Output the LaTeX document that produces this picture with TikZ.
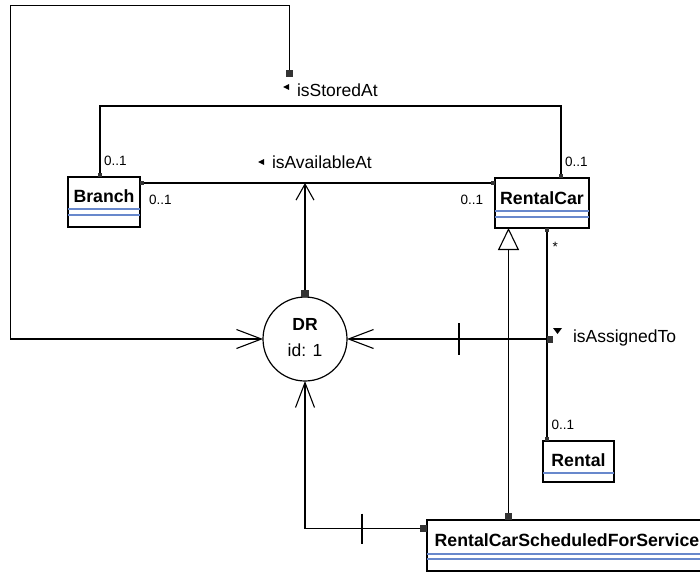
\documentclass[tikz,border=0pt]{standalone}
\usepackage{fontspec}
\setmainfont{Liberation Sans}
\usetikzlibrary{arrows.meta,positioning}

\definecolor{sepblue}{RGB}{104,136,204}
\definecolor{sqgray}{RGB}{51,51,51}

\tikzset{
  cls/.style={rectangle, draw=black, line width=1.2pt, fill=white, anchor=north west},
  clsname/.style={anchor=base, font=\fontsize{17.7}{20}\selectfont\bfseries},
  sepline/.style={draw=sepblue, line width=1.1pt},
  mult/.style={anchor=base west, font=\fontsize{13.5}{16}\selectfont},
  assoc/.style={anchor=base west, font=\fontsize{17.5}{20}\selectfont},
  bigsq/.style={rectangle, fill=sqgray, minimum size=7pt},
  smallsq/.style={rectangle, fill=sqgray, minimum size=4pt},
  barb/.style={-{Straight Barb[length=25pt, width=19pt]}},
  smallbarb/.style={-{Straight Barb[length=16pt, width=18pt]}},
  inherit/.style={-{Triangle[open, length=22pt, width=21pt, fill=white]}},
}

\begin{document}
\begin{tikzpicture}[x=1pt, y=-1pt, line width=1.1pt, inner sep=0, outer sep=0]
  \useasboundingbox (0,0) rectangle (700,572);
  \clip (0,0) rectangle (700,572);

  % classes
  \node[cls, minimum width=72pt, minimum height=50pt] (branch) at (68,177) {};
  \node[clsname] (branchName) at ([yshift=-25.5pt]branch.north) {Branch};
  \draw[sepline] ([yshift=-32pt]branch.north west) -- ([yshift=-32pt]branch.north east);
  \draw[sepline] ([yshift=-38pt]branch.north west) -- ([yshift=-38pt]branch.north east);

  \node[cls, minimum width=94pt, minimum height=50pt] (rentalcar) at (495,178) {};
  \node[clsname] (rentalcarName) at ([yshift=-26pt]rentalcar.north) {RentalCar};
  \draw[sepline] ([yshift=-33pt]rentalcar.north west) -- ([yshift=-33pt]rentalcar.north east);
  \draw[sepline] ([yshift=-39pt]rentalcar.north west) -- ([yshift=-39pt]rentalcar.north east);

  \node[cls, minimum width=71pt, minimum height=41pt] (rental) at (543,441) {};
  \node[clsname] (rentalName) at ([yshift=-25pt]rental.north) {Rental};
  \draw[sepline] ([yshift=-32pt]rental.north west) -- ([yshift=-32pt]rental.north east);

  \node[cls, minimum width=280pt, minimum height=51pt] (rcsfs) at (427,520) {};
  \node[clsname] (rcsfsName) at ([yshift=-26pt]rcsfs.north) {RentalCarScheduledForService};
  \draw[sepline] ([yshift=-34pt]rcsfs.north west) -- ([yshift=-34pt]rcsfs.north east);
  \draw[sepline] ([yshift=-39pt]rcsfs.north west) -- ([yshift=-39pt]rcsfs.north east);

  % derivation rule
  \node[circle, draw=black, line width=1.2pt, minimum size=84pt, align=center,
    text depth=4pt, font=\fontsize{17.5}{26}\selectfont] (dr) at (305,339) {\textbf{DR}\\id: 1};

  % isStoredAt
  \node[smallsq, anchor=south] (brTop) at ([xshift=-4pt]branch.north) {};
  \node[smallsq, anchor=south] (rcTop) at ([xshift=19pt]rentalcar.north) {};
  \coordinate (storedBar) at (330,106);
  \draw (brTop.north) |- (storedBar) -| (rcTop.north);
  \node[mult] (mBrTop) at (104,165.5) {0..1};
  \node[mult] (mRcTop) at (565,166) {0..1};

  \node[bigsq] (stored) at (289.5,74) {};
  \coordinate (loopTL) at (10.5,5.5);
  \draw[barb] (stored.north) |- (loopTL) |- (dr.west);
  \node[assoc] (storedLbl) at (297,96.5) {isStoredAt};
  \fill ([shift={(-14,-9.5)}]storedLbl.base west) -- ++(6,-3) -- ++(0,6) -- cycle;

  % isAvailableAt
  \node[smallsq, anchor=west] (brRight) at ([yshift=-6pt]branch.north east) {};
  \node[smallsq, anchor=east] (rcLeft) at ([yshift=-5pt]rentalcar.north west) {};
  \draw (brRight.east) -- (rcLeft.west);
  \node[mult] (mBrRight) at (149,204) {0..1};
  \node[mult] (mRcLeft) at (460.5,204) {0..1};
  \node[assoc] (availLbl) at (272,168) {isAvailableAt};
  \fill ([shift={(-14,-6)}]availLbl.base west) -- ++(6,-3) -- ++(0,6) -- cycle;

  \node[bigsq, minimum width=8pt, anchor=south] (drTop) at (dr.north) {};
  \draw[smallbarb] (drTop.north) -- (drTop |- brRight);

  % isAssignedTo
  \node[smallsq, anchor=north] (rcBottom) at ([xshift=5pt]rentalcar.south) {};
  \node[smallsq, anchor=south] (rentalTop) at (rental.north -| rcBottom) {};
  \draw (rcBottom.south) -- (rentalTop.north);
  \node[mult] (mRcStar) at (552.5,251) {*};
  \node[mult] (mRental) at (551.5,429) {0..1};
  \node[assoc] (assignLbl) at (573,342) {isAssignedTo};
  \fill ([shift={(-20,-14)}]assignLbl.base west) -- ++(9,0) -- ++(-4.5,6) -- cycle;

  \node[bigsq, minimum width=6pt] (assign) at (550,339) {};
  \draw[barb] (assign.west) -- (dr.east);
  \coordinate (tickA) at (459,339);
  \draw ([yshift=16pt]tickA) -- ([yshift=-16pt]tickA);

  % generalization
  \node[bigsq, anchor=south] (genSq) at ([xshift=81.5pt]rcsfs.north west) {};
  \draw[inherit] (genSq.north) -- (genSq |- rentalcar.south);

  % scheduled for service
  \node[bigsq, anchor=east] (svcSq) at ([yshift=-8.5pt]rcsfs.north west) {};
  \draw[barb] (svcSq.west) -| (dr.south);
  \coordinate (tickB) at (362,528.5);
  \draw ([yshift=15pt]tickB) -- ([yshift=-15pt]tickB);
\end{tikzpicture}
\end{document}
